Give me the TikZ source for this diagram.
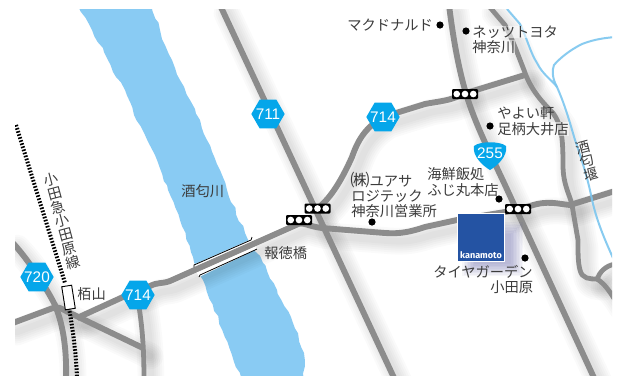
\documentclass[tikz,border=0pt]{standalone}
\usepackage{fontspec}
\setmainfont{Liberation Sans}
\newfontfamily\jp{Noto Sans CJK JP}
\newfontfamily\logofont{Fira Sans}
\usetikzlibrary{shapes.geometric,decorations.pathmorphing}
\definecolor{roadgray}{HTML}{8C8C8C}
\definecolor{riverblue}{HTML}{89CBF3}
\definecolor{badgeblue}{HTML}{05A6EA}
\definecolor{logoblue}{HTML}{2453A3}
\definecolor{inkgray}{HTML}{3C3C3C}
\definecolor{streamblue}{HTML}{7CC6EF}
\definecolor{shadowlav}{HTML}{50509C}
\tikzset{
  mainroad/.style={draw=roadgray,line width=4.4pt,line join=round},
  minorroad/.style={draw=roadgray,line width=3.6pt,line join=round},
  hexbadge/.style={regular polygon,regular polygon sides=6,fill=badgeblue,text=white,inner sep=0pt,minimum size=25pt,font=\fontsize{11.5}{12}\selectfont},
  maplabel/.style={font=\jp\fontsize{10.7}{12}\selectfont,text=inkgray,inner sep=0pt,anchor=west},
  halolabel/.style={maplabel,fill=white,fill opacity=0.55,text opacity=1},
  railchars/.style={font=\jp\fontsize{10.7}{10.8}\selectfont,text=inkgray,inner sep=0pt,rotate=15,align=center},
  placedot/.style={circle,fill=black,inner sep=0pt,minimum size=5.4pt},
  signalbox/.style={rectangle,fill=black,rounded corners=0.8pt,inner sep=0pt,minimum width=19.5pt,minimum height=7.5pt},
  signallamp/.style={circle,fill=white,inner sep=0pt,minimum size=5pt},
  streamline/.style={draw=streamblue,line width=1.5pt,line join=round}
}
\newcommand{\allroads}[1]{%
  \draw[mainroad,#1] (220,5) -- (395,380);
  \draw[mainroad,#1] (449,5) .. controls (454,45) and (460,75) .. (468,100) .. controls (478,130) and (492,157) .. (505,185) -- (595,380);
  \draw[mainroad,#1] (10,324) -- (53,308) .. controls (58,306) and (62,309) .. (68,312) -- (143,348);
  \draw[mainroad,#1] (77,318) -- (123,297) -- (150,286) .. controls (158,282) and (162,284) .. (170,281) -- (296,225) .. controls (303,221) and (306,226) .. (322,228) -- (385,233) .. controls (400,234) and (410,232) .. (425,227) -- (457,220) -- (505,212) -- (530,206) .. controls (548,200) and (558,204) .. (570,205) -- (615,191);
  \draw[mainroad,#1] (318,208) .. controls (332,197) and (343,177) .. (352,157) .. controls (358,140) and (365,128) .. (383,117) -- (425,104) .. controls (440,101) and (450,101) .. (463,94) -- (525,75);
  \draw[mainroad,#1] (10,240) .. controls (25,255) and (45,285) .. (55,305) .. controls (62,322) and (67,345) .. (66,380);
  \draw[minorroad,#1] (138,300) .. controls (142,325) and (144,345) .. (144,380);
  \draw[minorroad,#1] (488,5) -- (505,25) .. controls (512,38) and (518,55) .. (524,70) .. controls (530,88) and (540,100) .. (553,113) .. controls (562,125) and (563,140) .. (563,165) .. controls (563,185) and (570,195) .. (572,205) -- (578,240) .. controls (578,255) and (578,262) .. (580,270) .. controls (582,279) and (590,279) .. (597,279);
  \draw[minorroad,#1] (615,264) .. controls (605,266) and (600,272) .. (597,279) .. controls (605,284) and (610,292) .. (615,300);
}
\begin{document}
\begin{tikzpicture}[x=0.75pt,y=-0.75pt]
\useasboundingbox (0,0) rectangle (625,380);
\fill[white] (0,0) rectangle (625,380);
\begin{scope}
\clip (15,9) rectangle (612,375);
% river
\fill[riverblue,decorate,decoration={random steps,segment length=5pt,amplitude=0.9pt}]
  (75,0) -- (92,30) -- (104,52) -- (113,72) -- (125,90) -- (134,115) -- (145,135) -- (155,155) -- (168,190) -- (180,220) -- (193,257) -- (203,280) -- (242,380)
  -- (304,380) -- (304,353) -- (293,323) -- (277,290) -- (263,263) -- (245,233) -- (227,190) -- (220,170) -- (207,140) -- (200,120) -- (190,100) -- (180,80) -- (172,60) -- (165,45) -- (160,30) -- (150,0) -- cycle;
% soft road shadows
\begin{scope}[shift={(7,8)}]
\foreach \extra in {20,17,14,11,8,5}{
  \allroads{draw=black,draw opacity=0.019,line width=\extra pt,line cap=round}
}
\end{scope}
% bridge deck
\fill[white] (193,265) -- (252,239) -- (257,249) -- (199,277) -- cycle;
% roads
\allroads{}
% bridge rails
\draw[black,line width=0.6pt] (194,267) -- (194,265) -- (251,240) -- (252,237);
\draw[black,line width=0.6pt] (199,277) -- (200,275) -- (255,250) -- (257,249);
% streams
\draw[streamline,opacity=0.9] (507,9) -- (520,24) .. controls (527,38) and (530,52) .. (537,63) .. controls (543,75) and (552,80) .. (557,87) .. controls (565,105) and (570,123) .. (575,140) .. controls (582,160) and (588,180) .. (591,195) .. controls (596,220) and (605,240) .. (613,258);
\draw[streamline,opacity=0.9] (557,87) .. controls (552,78) and (552,70) .. (554,65) .. controls (560,58) and (570,50) .. (582,44) .. controls (595,39) and (605,38) .. (615,37);
% railway
\draw[black,line width=3pt,dash pattern=on 1.2pt off 1.2pt] (16,125) -- (65,283);
\draw[black,line width=3pt,dash pattern=on 1.2pt off 1.2pt] (69,308) .. controls (72,325) and (76,350) .. (77,378);
\end{scope}
% station
\node[draw=black,fill=white,line width=0.7pt,inner sep=0pt,minimum width=7.5pt,minimum height=17.5pt,rotate=9] (station) at (68.5,297.5) {};
% badges
\node[hexbadge] (b711) at (268,114) {\makebox[0pt]{711}};
\node[hexbadge] (b714n) at (383,117) {\makebox[0pt]{714}};
\node[hexbadge] (b714s) at (138,295) {\makebox[0pt]{714}};
\node[hexbadge] (b720) at (37,277) {\makebox[0pt]{720}};
\fill[badgeblue] (474,146) .. controls (480,141) and (500,141) .. (506,146) .. controls (508,156) and (497,166) .. (490,170) .. controls (483,166) and (472,156) .. (474,146) -- cycle;
\node[text=white,inner sep=0pt,font=\fontsize{11.5}{12}\selectfont] (b255) at (490,153) {255};
% signals
\node[signalbox] (sa) at (465,94) {};
\node[signalbox] (sb) at (317.5,208.5) {};
\node[signalbox] (sc) at (299,220) {};
\node[signalbox] (sd) at (518,209) {};
\foreach \nm in {sa,sb,sc,sd}{
  \node[signallamp] at ([xshift=-6.2pt]\nm.center) {};
  \node[signallamp] at (\nm.center) {};
  \node[signallamp] at ([xshift=6.2pt]\nm.center) {};
}
% logo shadow
\foreach \g in {0,1.5,3,4.5,6,7.5,9,10.5,12}{
  \fill[shadowlav,opacity=0.05] (462+\g,222+\g) rectangle (523-\g,276-\g);
}
\node[draw=white,line width=0.8pt,fill=logoblue,inner sep=0pt,minimum width=35pt,minimum height=35.5pt] (logo) at (481,237.5) {};
\node[text=white,inner sep=0pt,font=\logofont\bfseries\fontsize{6.8}{7}\selectfont] (logotext) at (481,255) {kanamoto};
% dots
\node[placedot] (d1) at (440,25) {};
\node[placedot] (d2) at (466,31) {};
\node[placedot] (d3) at (490,126) {};
\node[placedot] (d4) at (499,199) {};
\node[placedot] (d5) at (372,222) {};
\node[placedot] (d6) at (525,258) {};
% labels
\node[maplabel] (t1) at (347,25) {マクドナルド};
\node[halolabel] (t2) at (472,32) {ネッツトヨタ};
\node[halolabel] (t3) at (472,47) {神奈川};
\node[maplabel] (t4) at (497,113) {やよい軒};
\node[halolabel] (t5) at (497,129) {足柄大井店};
\node[maplabel] (t6) at (427,174) {海鮮飯処};
\node[maplabel] (t7) at (427,190) {ふじ丸本店};
\node[maplabel] (t8) at (350,180) {\scalebox{1.35}[1.2]{㈱}ユアサ};
\node[maplabel] (t9) at (351,196) {ロジテック};
\node[maplabel] (t10) at (351,211) {神奈川営業所};
\node[maplabel] (t11) at (433,272) {タイヤガーデン};
\node[maplabel] (t12) at (490,287) {小田原};
\node[maplabel] (t13) at (264,253) {報徳橋};
\node[maplabel] (t14) at (77,294) {栢山};
\node[maplabel] (t15) at (181,191) {酒匂川};
% rotated line names
\node[railchars] (rail) at (62,221) {小\\田\\急\\小\\田\\原\\線};
\node[railchars] (weir) at (587,161) {酒\\匂\\堰};
\end{tikzpicture}
\end{document}
